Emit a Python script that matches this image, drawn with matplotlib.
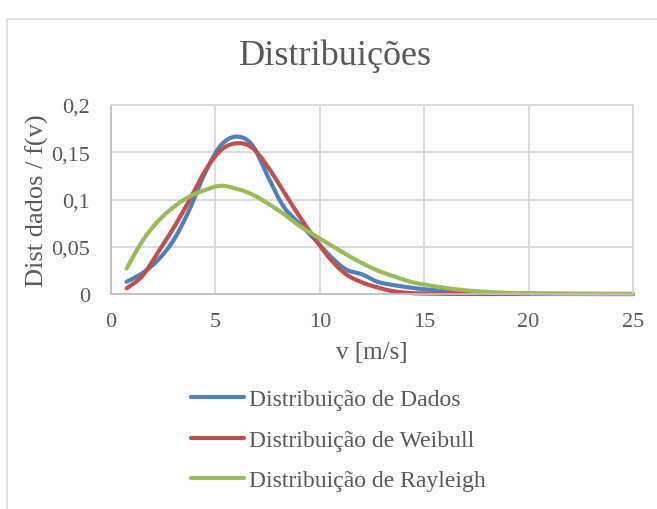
import numpy as np
import matplotlib

matplotlib.use('Agg')
import matplotlib.pyplot as plt
from matplotlib.patches import Rectangle

# wind speed (m/s) and the three curves
v = [0.75, 1.5, 2.25, 3.0, 3.75, 4.5, 5.25, 6.0, 6.75, 7.5, 8.25, 9.0, 9.75, 10.5,
     11.25, 12.0, 12.75, 13.5, 14.25, 15.0, 16.5, 18.0, 19.5, 21.0, 22.5, 24.0, 25.0]
dados = [0.013, 0.022, 0.036, 0.057, 0.089, 0.128, 0.157, 0.1665, 0.158, 0.125, 0.093,
         0.075, 0.058, 0.040, 0.026, 0.021, 0.013, 0.0095, 0.007, 0.005, 0.0025, 0.001,
         0.0005, 0.0002, 0.0001, 0.0, 0.0]
weibull = [0.006, 0.019, 0.044, 0.070, 0.099, 0.130, 0.152, 0.1595, 0.155, 0.135, 0.109,
           0.083, 0.059, 0.037, 0.021, 0.0125, 0.007, 0.003, 0.0012, 0.0005, 0.0001, 0.0,
           0.0, 0.0, 0.0, 0.0, 0.0]
rayleigh = [0.027, 0.056, 0.077, 0.092, 0.103, 0.110, 0.1145, 0.1115, 0.1055, 0.096, 0.085,
            0.0725, 0.062, 0.052, 0.042, 0.033, 0.025, 0.019, 0.0135, 0.010, 0.005, 0.0022,
            0.0009, 0.0003, 0.0001, 0.0, 0.0]

labels = ['Distribuição de Dados', 'Distribuição de Weibull', 'Distribuição de Rayleigh']
colors = ['#4F81BD', '#C0504D', '#9BBB59']

xticks = [0, 5, 10, 15, 20, 25]
yticks = [0, 0.05, 0.1, 0.15, 0.2]
ytick_labels = ['0', '0,05', '0,1', '0,15', '0,2']


def smooth(x, y, n=20):
    # catmull-rom, roughly what excel does for "smoothed line"
    p = np.column_stack([x, y])
    p = np.vstack([p[0], p, p[-1]])
    out = []
    t = np.linspace(0, 1, n, endpoint=False)[:, None]
    for i in range(1, len(p) - 2):
        p0, p1, p2, p3 = p[i - 1], p[i], p[i + 1], p[i + 2]
        seg = 0.5 * ((2 * p1) + (-p0 + p2) * t + (2 * p0 - 5 * p1 + 4 * p2 - p3) * t ** 2
                     + (-p0 + 3 * p1 - 3 * p2 + p3) * t ** 3)
        out.append(seg)
    out.append(p[-2][None, :])
    out = np.vstack(out)
    return out[:, 0], out[:, 1]


plt.rcParams['font.family'] = ['Liberation Serif', 'DejaVu Serif']
txt = '#595959'
grid_c = '#D9D9D9'

fig = plt.figure(figsize=(6.57, 5.10), dpi=100)
fig.patches.append(Rectangle((7 / 657, -0.1), 1.2, 1.08 - 10 / 510, transform=fig.transFigure,
                             fill=False, edgecolor=grid_c, lw=1.2))

ax = fig.add_axes([111 / 657, 1 - 295 / 510, (633 - 111) / 657, (295 - 106) / 510])

for ys, lab, c in zip([dados, weibull, rayleigh], labels, colors):
    sx, sy = smooth(v, ys)
    ax.plot(sx, sy, color=c, lw=3, label=lab, solid_capstyle='round', clip_on=False)

ax.set_xlim(0, 25)
ax.set_ylim(0, 0.2)
ax.set_xticks(xticks)
ax.set_yticks(yticks)
ax.set_yticklabels(ytick_labels)
ax.tick_params(length=0, labelsize=16, labelcolor=txt)
ax.tick_params(axis='y', pad=15)
ax.tick_params(axis='x', pad=13)
ax.grid(True, color=grid_c, lw=1.3)
ax.set_axisbelow(True)
for s in ax.spines.values():
    s.set_color(grid_c)
    s.set_linewidth(1.3)
ax.spines['left'].set_color('#BFBFBF')
ax.spines['bottom'].set_color('#BFBFBF')

ax.set_xlabel('v [m/s]', fontsize=18, color=txt, labelpad=7)
ax.set_ylabel('Dist dados / f(v)', fontsize=19, color=txt, labelpad=2)
fig.text(335 / 657, 1 - 56 / 510, 'Distribuições', fontsize=26, color=txt,
         ha='center', va='center')

fig.legend(loc='center', bbox_to_anchor=(338 / 657, 1 - 441 / 510), frameon=False,
           fontsize=17, handlelength=2.25, handletextpad=0.2, labelspacing=0.8,
           labelcolor=txt)

plt.savefig('out.png', dpi=100)
